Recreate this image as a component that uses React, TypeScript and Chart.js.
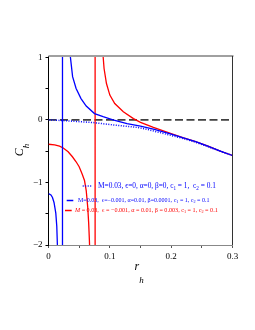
import React, { useEffect, useRef } from "react";
import { Chart, registerables } from "chart.js";

Chart.register(...registerables);

// Series 1: M=0.03, eps=0, alpha=0, beta=0 (blue dotted)
const rDotted = [0, 0.02, 0.04, 0.06, 0.072, 0.1, 0.12, 0.14, 0.15, 0.16, 0.18, 0.2, 0.22, 0.24, 0.26, 0.28, 0.3];
const cDotted = [0, -0.01, -0.022, -0.035, -0.043, -0.075, -0.095, -0.115, -0.13, -0.15, -0.2, -0.25, -0.3, -0.36, -0.43, -0.5, -0.57];

// Series 2: M=0.03, eps=-0.001, alpha=0.01, beta=0.0001 (blue solid)
const rBlue = [0, 0.004, 0.0065, 0.009, 0.0119, 0.0135, 0.0145, 0.018, 0.0215, 0.0228, 0.0228, 0.026, 0.03, 0.0355, 0.0393, 0.045, 0.053, 0.0615, 0.075, 0.089, 0.105, 0.128, 0.15, 0.171, 0.2, 0.22, 0.24, 0.26, 0.28, 0.3];
const cBlue = [-1.18, -1.2, -1.24, -1.32, -1.49, -1.7, -2.0, -3.5, -10, -100, 100, 6, 2, 1.02, 0.69, 0.5, 0.34, 0.22, 0.1, 0.05, 0, -0.06, -0.1, -0.15, -0.23, -0.29, -0.35, -0.42, -0.5, -0.57];

// Series 3: M=0.03, eps=-0.001, alpha=0.01, beta=0.003 (red solid)
const rRed = [0, 0.01, 0.018, 0.024, 0.032, 0.039, 0.045, 0.05, 0.055, 0.0587, 0.0615, 0.064, 0.0655, 0.0667, 0.068, 0.072, 0.076, 0.076, 0.08, 0.085, 0.089, 0.0906, 0.0945, 0.1, 0.108, 0.122, 0.1385, 0.15, 0.171, 0.2, 0.22, 0.24, 0.26, 0.28, 0.3];
const cRed = [-0.39, -0.4, -0.42, -0.45, -0.51, -0.59, -0.67, -0.75, -0.87, -0.97, -1.13, -1.4, -1.65, -1.93, -2.3, -5, -100, 100, 8, 2, 1.02, 0.82, 0.58, 0.395, 0.26, 0.128, 0.02, -0.04, -0.12, -0.22, -0.29, -0.35, -0.42, -0.5, -0.57];

// Zero reference line
const rZero = [0, 0.3];
const cZero = [0, 0];

const xTicks = [0, 0.05, 0.1, 0.15, 0.2, 0.25, 0.3];
const xTickLabels = ["0", "", "0.1", "", "0.2", "", "0.3"];
const yTicks = [-2, -1.5, -1, -0.5, 0, 0.5, 1];
const yTickLabels = ["\u22122", "", "\u22121", "", "0", "", "1"];

type Seg = { t: string; sub?: boolean; it?: boolean };
const legend1: Seg[] = [
  { t: "M=0.03, \u03f5=0, \u03b1=0, \u03b2=0, c" }, { t: "1", sub: true }, { t: " = 1,  c" }, { t: "2", sub: true }, { t: " = 0.1" },
];
const legend2: Seg[] = [
  { t: "M=0.03,  \u03f5=\u22120.001, \u03b1=0.01, \u03b2=0.0001, c" }, { t: "1", sub: true }, { t: " = 1, c" }, { t: "2", sub: true }, { t: " = 0.1" },
];
const legend3: Seg[] = [
  { t: "M", it: true }, { t: " = 0.03,  \u03f5 = \u22120.001, \u03b1 = 0.01, \u03b2 = 0.003, c" }, { t: "1", sub: true }, { t: " = 1, c" }, { t: "2", sub: true }, { t: " = 0.1" },
];

const FAMILY = "'Liberation Serif', 'DejaVu Serif', serif";
const BLUE = "#0000ff";
const RED = "#ff0000";

function richWidth(ctx: CanvasRenderingContext2D, segs: Seg[], size: number) {
  let w = 0;
  for (const s of segs) {
    ctx.font = `${s.it ? "italic " : ""}${s.sub ? size * 0.7 : size}px ${FAMILY}`;
    w += ctx.measureText(s.t).width;
  }
  return w;
}

function drawRich(ctx: CanvasRenderingContext2D, segs: Seg[], x: number, y: number, x2: number, color: string) {
  const w10 = richWidth(ctx, segs, 10);
  const size = (10 * (x2 - x)) / w10;
  let cx = x;
  ctx.fillStyle = color;
  ctx.textBaseline = "middle";
  ctx.textAlign = "left";
  for (const s of segs) {
    ctx.font = `${s.it ? "italic " : ""}${s.sub ? size * 0.7 : size}px ${FAMILY}`;
    ctx.fillText(s.t, cx, y + (s.sub ? size * 0.3 : 0));
    cx += ctx.measureText(s.t).width;
  }
}

const decorPlugin = {
  id: "decor",
  afterDraw(chart: any) {
    const { ctx, chartArea } = chart;
    const { left, right, top, bottom } = chartArea;
    ctx.save();
    // top frame
    ctx.strokeStyle = "#a0a0a0";
    ctx.lineWidth = 2;
    ctx.beginPath();
    ctx.moveTo(left, top);
    ctx.lineTo(right + 1, top);
    ctx.stroke();
    // right frame
    ctx.strokeStyle = "#333";
    ctx.lineWidth = 1;
    ctx.beginPath();
    ctx.moveTo(right, top);
    ctx.lineTo(right, bottom);
    ctx.stroke();

    // legend samples
    ctx.lineWidth = 1.5;
    ctx.strokeStyle = BLUE;
    ctx.setLineDash([1, 1.5]);
    ctx.beginPath();
    ctx.moveTo(82.7, 186);
    ctx.lineTo(91.7, 186);
    ctx.stroke();
    ctx.setLineDash([]);
    ctx.beginPath();
    ctx.moveTo(66.7, 200.5);
    ctx.lineTo(73.3, 200.5);
    ctx.stroke();
    ctx.strokeStyle = RED;
    ctx.beginPath();
    ctx.moveTo(65, 210.5);
    ctx.lineTo(71.7, 210.5);
    ctx.stroke();

    drawRich(ctx, legend1, 98, 186, 216, BLUE);
    drawRich(ctx, legend2, 78, 200.5, 210, BLUE);
    drawRich(ctx, legend3, 75, 210.5, 218, RED);

    // axis titles
    ctx.fillStyle = "#000";
    ctx.textBaseline = "alphabetic";
    ctx.textAlign = "left";
    // x title r_h
    ctx.font = `italic 12px ${FAMILY}`;
    ctx.fillText("r", 134.5, 270);
    const rw = ctx.measureText("r").width;
    ctx.font = `italic 9px ${FAMILY}`;
    ctx.fillText("h", 134.5 + rw, 283);
    // y title C_h
    ctx.translate(23, 150);
    ctx.rotate(-Math.PI / 2);
    ctx.font = `italic 12px ${FAMILY}`;
    const cw = ctx.measureText("C").width;
    ctx.font = `italic 9px ${FAMILY}`;
    const hw = ctx.measureText("h").width;
    const start = -(cw + hw) / 2;
    ctx.font = `italic 12px ${FAMILY}`;
    ctx.fillText("C", start, 0);
    ctx.font = `italic 9px ${FAMILY}`;
    ctx.fillText("h", start + cw, 6);
    ctx.restore();
  },
};

function pts(xs: number[], ys: number[]) {
  return xs.map((x, i) => ({ x, y: ys[i] }));
}

export default function App() {
  const ref = useRef<HTMLCanvasElement | null>(null);
  useEffect(() => {
    if (!ref.current) return;
    const chart = new Chart(ref.current, {
      type: "line",
      data: {
        datasets: [
          {
            data: pts(rDotted, cDotted),
            borderColor: BLUE,
            borderWidth: 1.5,
            borderDash: [1, 1.5],
            pointRadius: 0,
            fill: false,
          },
          {
            data: pts(rBlue, cBlue),
            borderColor: BLUE,
            borderWidth: 1.3,
            pointRadius: 0,
            fill: false,
          },
          {
            data: pts(rRed, cRed),
            borderColor: RED,
            borderWidth: 1.3,
            pointRadius: 0,
            fill: false,
          },
          {
            data: pts(rZero, cZero),
            borderColor: "#404040",
            borderWidth: 1.7,
            borderDash: [8, 3.5],
            pointRadius: 0,
            fill: false,
          },
        ],
      },
      options: {
        animation: false,
        responsive: false,
        events: [],
        layout: { padding: { left: 0, right: 22.5, top: 56, bottom: 0 } },
        plugins: { legend: { display: false }, tooltip: { enabled: false } },
        scales: {
          x: {
            type: "linear",
            min: 0,
            max: 0.3,
            afterBuildTicks: (scale: any) => {
              scale.ticks = xTicks.map((v) => ({ value: v }));
            },
            afterFit: (scale: any) => {
              scale.height = 85;
            },
            ticks: {
              autoSkip: false,
              maxRotation: 0,
              padding: 3,
              color: "#000",
              font: { family: FAMILY, size: 9 },
              callback: (v: any) => {
                const i = xTicks.findIndex((t) => Math.abs(t - Number(v)) < 1e-9);
                return i >= 0 ? xTickLabels[i] : "";
              },
            },
            grid: { drawOnChartArea: false, tickLength: 3, color: "#555", tickWidth: 1 },
            border: { color: "#888", width: 1 },
          },
          y: {
            type: "linear",
            min: -2,
            max: 1.02,
            afterBuildTicks: (scale: any) => {
              scale.ticks = yTicks.map((v) => ({ value: v }));
            },
            afterFit: (scale: any) => {
              scale.width = 48.5;
            },
            ticks: {
              autoSkip: false,
              padding: 3,
              color: "#000",
              font: { family: FAMILY, size: 9 },
              callback: (v: any) => {
                const i = yTicks.findIndex((t) => Math.abs(t - Number(v)) < 1e-9);
                return i >= 0 ? yTickLabels[i] : "";
              },
            },
            grid: { drawOnChartArea: false, tickLength: 3, color: "#000", tickWidth: 1 },
            border: { color: "#000", width: 1 },
          },
        },
      },
      plugins: [decorPlugin],
    } as any);
    return () => chart.destroy();
  }, []);
  return (
    <div style={{ position: "fixed", left: 0, top: 0, width: 255, height: 330, background: "#fff" }}>
      <canvas ref={ref} width={255} height={330} style={{ display: "block" }} />
    </div>
  );
}
